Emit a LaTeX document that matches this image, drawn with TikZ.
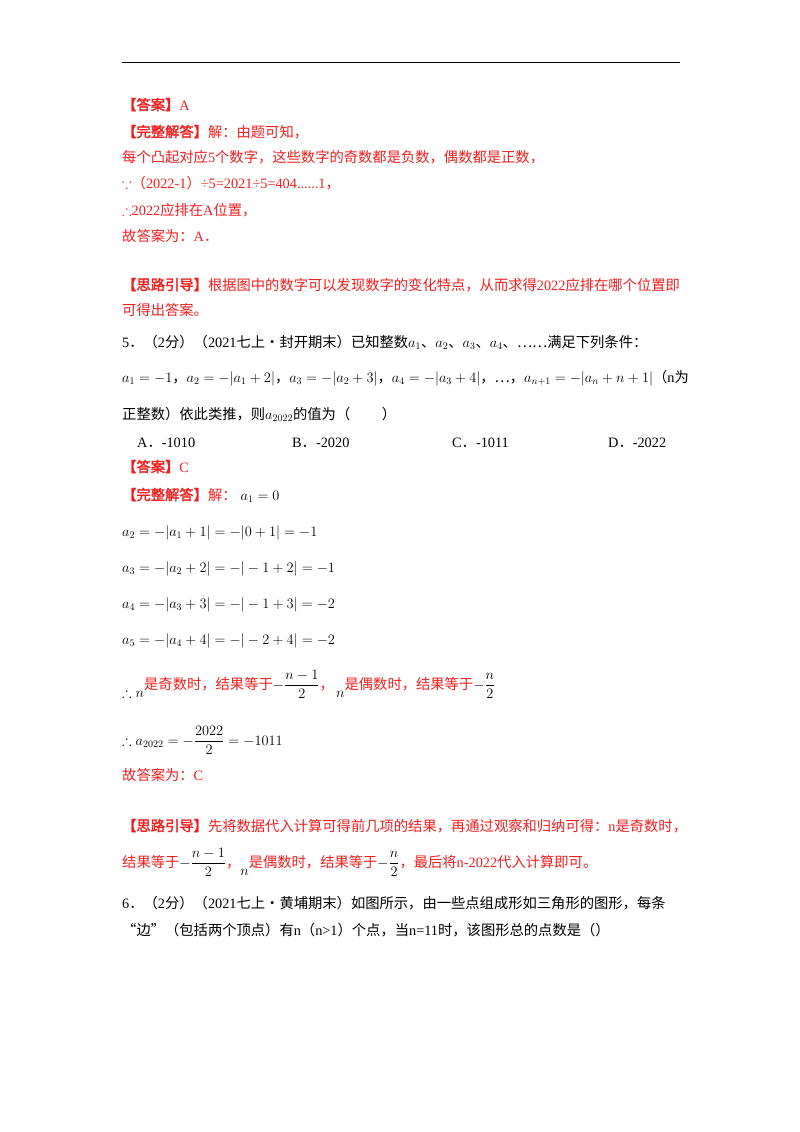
\documentclass[tikz,border=0pt]{standalone}
\usepackage{amsmath,amssymb}
\usepackage{fontspec}
\newfontfamily\cjk{Noto Sans CJK SC}
\newfontfamily\cjkb[FakeBold=2]{Noto Sans CJK SC}
\newfontfamily\lat{Liberation Serif}
\definecolor{ans}{RGB}{240,30,30}
\newcommand{\bk}[1]{\textcolor{black}{#1}}
\begin{document}
\begin{tikzpicture}[x=1pt,y=-1pt,
  t/.style={anchor=base west,inner sep=0pt,font=\fontsize{14.3}{17}\selectfont\cjk},
  r/.style={t,text=ans}]
\useasboundingbox (0,0) rectangle (800,1132);
\draw[line width=1pt] (122,63) coordinate (l1) -- (680,63) coordinate (l2);
\node[r] (n1) at (122,110) {{\cjkb 【答案】}\lat A};
\node[r] (n2) at (122,137) {{\cjkb 【完整解答】}解：由题可知，};
\node[r] (n3) at (122,162) {每个凸起对应{\lat 5}个数字，这些数字的奇数都是负数，偶数都是正数，};
\node[r] (n4) at (122,188) {$\because$（{\lat 2022-1}）{\lat ÷5=2021÷5=404......1}，};
\node[r] (n5) at (122,215) {$\therefore${\lat 2022}应排在{\lat A}位置，};
\node[r] (n6) at (122,241) {故答案为：{\lat A}．};
\node[r] (n7) at (122,290) {{\cjkb 【思路引导】}根据图中的数字可以发现数字的变化特点，从而求得{\lat 2022}应排在哪个位置即};
\node[r] (n8) at (122,315) {可得出答案。};
\node[t] (q5) at (122,347) {{\lat 5}．（{\lat 2}分）（{\lat 2021}七上·封开期末）已知整数$a_1$、$a_2$、$a_3$、$a_4$、……满足下列条件：};
\node[t] (q5b) at (122,382) {$a_1=-1$，$a_2=-|a_1+2|$，$a_3=-|a_2+3|$，$a_4=-|a_3+4|$，…，$a_{n+1}=-|a_n+n+1|$（{\lat n}为};
\node[t] (q5c) at (122,419) {正整数）依此类推，则$a_{2022}$的值为（\hspace{2.2em}）};
\node[t] (oa) at (137,447) {{\lat A}．{\lat -1010}};
\node[t] (ob) at (292,447) {{\lat B}．{\lat -2020}};
\node[t] (oc) at (452,447) {{\lat C}．{\lat -1011}};
\node[t] (od) at (608,447) {{\lat D}．{\lat -2022}};
\node[r] (m1) at (122,472) {{\cjkb 【答案】}\lat C};
\node[r] (m2) at (122,500) {{\cjkb 【完整解答】}解：\bk{$\;a_1=0$}};
\node[t] (e2) at (122,536) {$a_2=-|a_1+1|=-|0+1|=-1$};
\node[t] (e3) at (122,572) {$a_3=-|a_2+2|=-|-1+2|=-1$};
\node[t] (e4) at (122,608) {$a_4=-|a_3+3|=-|-1+3|=-2$};
\node[t] (e5) at (122,644) {$a_5=-|a_4+4|=-|-2+4|=-2$};
\node[t] (e6) at (122,697) {$\therefore n$\raisebox{8pt}{\textcolor{ans}{是奇数时，结果等于}$-\dfrac{n-1}{2}$\textcolor{ans}{，}}\,$n$\raisebox{8pt}{\textcolor{ans}{是偶数时，结果等于}$-\dfrac{n}{2}$}};
\node[t] (e7) at (122,745) {$\therefore a_{2022}=-\dfrac{2022}{2}=-1011$};
\node[r] (e8) at (122,780) {故答案为：{\lat C}};
\node[r] (g1) at (122,831) {{\cjkb 【思路引导】}先将数据代入计算可得前几项的结果，再通过观察和归纳可得：{\lat n}是奇数时，};
\node[r] (g2) at (122,867) {结果等于\bk{$-\dfrac{n-1}{2}$}，\raisebox{-8pt}{\bk{$n$}}是偶数时，结果等于\bk{$-\dfrac{n}{2}$}，最后将{\lat n-2022}代入计算即可。};
\node[t] (q6) at (122,908) {{\lat 6}．（{\lat 2}分）（{\lat 2021}七上·黄埔期末）如图所示，由一些点组成形如三角形的图形，每条};
\node[t] (q6b) at (122,935) {“边”（包括两个顶点）有{\lat n}（{\lat n>1}）个点，当{\lat n=11}时，该图形总的点数是（）};
\end{tikzpicture}
\end{document}
